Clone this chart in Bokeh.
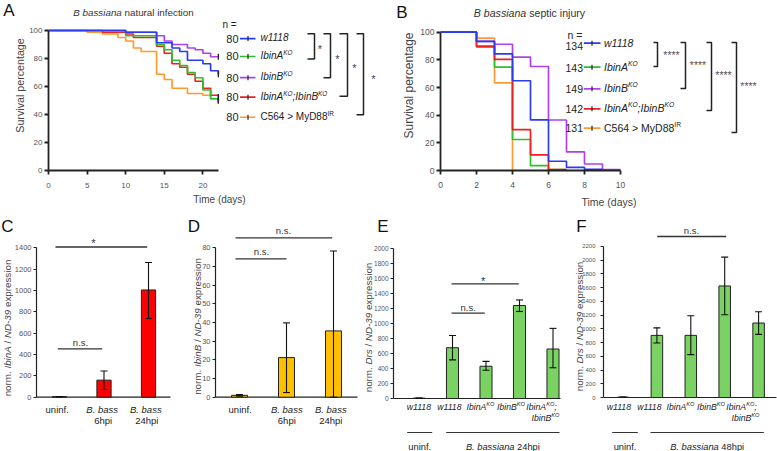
import math
from bokeh.plotting import figure
from bokeh.models import Range1d, FixedTicker, Whisker, TeeHead, ColumnDataSource
from bokeh.layouts import row, column
from bokeh.embed import file_html
from bokeh.resources import INLINE
from bokeh.core.properties import value

FONT = "Liberation Sans"

# ------------------------------------------------------------------ data
# Panel A: B. bassiana natural infection (Kaplan-Meier, % survival)
A_n = [80, 80, 80, 80, 80]
A_w1118_days = [0, 10, 14, 16, 17, 18, 20, 21, 22]
A_w1118_surv = [100, 98.75, 91.25, 87.5, 85, 78.75, 76.25, 71.25, 68.75]
A_ibinA_days = [0, 10, 14, 15, 16, 17, 18, 19, 20, 21, 22]
A_ibinA_surv = [100, 96.25, 90, 86.25, 78.75, 75, 70, 66.25, 57.5, 51.25, 50]
A_ibinB_days = [0, 10, 14, 15, 16, 18, 19, 20, 21, 22]
A_ibinB_surv = [100, 98.75, 96.25, 92.5, 90, 87.5, 86.25, 83.75, 81.25, 81.25]
A_ibinAB_days = [0, 7, 10, 11, 14, 15, 16, 17, 18, 19, 20, 21, 22]
A_ibinAB_surv = [100, 98.75, 97.5, 95, 88.75, 83.75, 76.25, 73.75, 68.75, 63.75, 58.75, 53.75, 52.5]
A_myd88_days = [0, 5, 7, 9, 10, 11, 12, 14, 15, 16, 18, 20, 21, 22]
A_myd88_surv = [100, 98.75, 97.5, 95, 92.5, 87.5, 85, 68.75, 65, 58.75, 55, 53.75, 51.25, 50]

# Panel B: B. bassiana septic injury
B_n = [134, 143, 149, 142, 131]
B_w1118_days = [0, 2, 3, 4, 5, 6, 7, 8, 9]
B_w1118_surv = [100, 93.3, 84.3, 64.9, 36.6, 6.7, 2.2, 0.75, 0.75]
B_ibinA_days = [0, 2, 3, 4, 5, 6, 7]
B_ibinA_surv = [100, 90.2, 74.8, 22.4, 3.5, 0.7, 0.7]
B_ibinB_days = [0, 2, 3, 4, 5, 6, 7, 8, 9, 10]
B_ibinB_surv = [100, 93.3, 91.3, 82.0, 75.2, 36.5, 13.4, 4.7, 0.7, 0.7]
B_ibinAB_days = [0, 2, 3, 4, 5, 6, 7]
B_ibinAB_surv = [100, 89.4, 80.3, 29.6, 11.3, 0.7, 0.7]
B_myd88_days = [0, 2, 3, 4]
B_myd88_surv = [100, 95.7, 63.4, 0]

KM_COLORS = ["#2b3bf2", "#2fbf2f", "#b040ee", "#ee2020", "#ff9a30"]

# Panels C/D: IbinA / IbinB expression
C_mean = [5, 160, 1005]
C_lo = [3, 72, 738]
C_hi = [7, 245, 1263]
D_mean = [1.0, 21.2, 35.5]
D_lo = [0.6, 2.5, 0.0]
D_hi = [1.4, 39.8, 78.3]
CD_cat_top = ["uninf.", "B. bass", "B. bass"]
CD_cat_bottom = ["", "6hpi", "24hpi"]

# Panels E/F: Drs expression
E_mean = [5, 677, 430, 1240, 660]
E_lo = [3, 515, 376, 1160, 410]
E_hi = [7, 840, 495, 1314, 935]
F_mean = [5, 905, 905, 1625, 1085]
F_lo = [3, 795, 625, 1205, 920]
F_hi = [7, 1015, 1190, 2045, 1250]

# ------------------------------------------------------------------ text helpers
CW = {c: 0.556 for c in "0123456789"}
CW.update({' ': 0.278, '.': 0.278, ',': 0.278, ';': 0.278, ':': 0.278, '/': 0.278, '-': 0.333,
           '*': 0.389, '>': 0.584, '=': 0.584, '(': 0.333, ')': 0.333,
           'A': 0.667, 'B': 0.667, 'C': 0.722, 'D': 0.722, 'E': 0.667, 'F': 0.611, 'G': 0.778,
           'H': 0.722, 'I': 0.278, 'J': 0.5, 'K': 0.667, 'L': 0.556, 'M': 0.833, 'N': 0.722,
           'O': 0.778, 'P': 0.667, 'Q': 0.778, 'R': 0.722, 'S': 0.667, 'T': 0.611, 'U': 0.722,
           'V': 0.667, 'W': 0.944, 'X': 0.667, 'Y': 0.667, 'Z': 0.611,
           'a': 0.556, 'b': 0.556, 'c': 0.5, 'd': 0.556, 'e': 0.556, 'f': 0.278, 'g': 0.556,
           'h': 0.556, 'i': 0.222, 'j': 0.222, 'k': 0.5, 'l': 0.222, 'm': 0.833, 'n': 0.556,
           'o': 0.556, 'p': 0.556, 'q': 0.556, 'r': 0.333, 's': 0.5, 't': 0.278, 'u': 0.556,
           'v': 0.5, 'w': 0.722, 'x': 0.5, 'y': 0.5, 'z': 0.5})


def tw(s, size):
    return sum(CW.get(c, 0.556) for c in s) * size


def put(p, X, Y, px, py, parts, align="left", angle=0.0, color="#222", level="glyph"):
    """parts: list of (text, size, style, rise_px); (px, py) = page pixel anchor (mid-height)."""
    total = sum(tw(t, s) for t, s, _, _ in parts)
    cur = {"left": 0.0, "center": -total / 2.0, "right": -total}[align]
    ux, uy = math.cos(angle), -math.sin(angle)
    vx, vy = math.sin(angle), math.cos(angle)
    for t, s, st, rise in parts:
        lead = len(t) - len(t.lstrip(" "))
        shown = t.strip(" ")
        a = cur + tw(" " * lead, s)
        d = -rise
        sx = px + ux * a + vx * d
        sy = py + uy * a + vy * d
        p.text(x=[X(sx)], y=[Y(sy)], text=[shown], angle=angle, text_font=value(FONT),
               text_font_size=value(f"{s}px"), text_font_style=value(st), text_color=color,
               text_align=value("left"), text_baseline=value("middle"), level=level)
        cur += tw(t, s)


def one(p, X, Y, px, py, t, size, style="normal", align="center", color="#222", angle=0.0,
        level="glyph"):
    put(p, X, Y, px, py, [(t, size, style, 0)], align=align, color=color, angle=angle, level=level)


def base_fig(width, height, xr, yr, left, bottom, x_axis=True):
    p = figure(width=width, height=height, x_range=Range1d(*xr), y_range=Range1d(*yr),
               min_border_left=left, min_border_right=0, min_border_top=0,
               min_border_bottom=bottom, output_backend="svg", toolbar_location=None,
               title=None, x_axis_location=("below" if x_axis else None))
    p.grid.visible = False
    p.outline_line_color = None
    p.background_fill_color = "white"
    p.border_fill_color = "white"
    return p


def style_axis(ax, bounds, ticks, tick_out, lw, label_size, label_color="#555", standoff=2):
    ax.bounds = bounds
    ax.ticker = FixedTicker(ticks=ticks)
    ax.minor_tick_line_color = None
    ax.major_tick_in = 0
    ax.major_tick_out = tick_out
    ax.axis_line_color = "#222"
    ax.axis_line_width = lw
    ax.major_tick_line_color = "#222"
    ax.major_tick_line_width = lw
    ax.major_label_text_font = FONT
    ax.major_label_text_font_size = label_size
    ax.major_label_text_color = label_color
    ax.major_label_standoff = standoff


def sup_parts(base, size, style="italic", sup="KO"):
    return [(base, size, style, 0), (sup, round(size * 0.64, 1), style, size * 0.33)]


# ------------------------------------------------------------------ Panel A
def AX(px): return (px - 48.0) / 7.72
def AY(py): return (174.0 - py) / 1.433

pA = base_fig(390, 214, (0, 342 / 7.72), (0, 174 / 1.433), 48, 40)
style_axis(pA.xaxis[0], (0, 22), [0, 5, 10, 15, 20], 4, 1.8, "8px", standoff=8)
style_axis(pA.yaxis[0], (0, 100), [0, 20, 40, 60, 80, 100], 4, 1.8, "8px", standoff=2)
pA.xaxis[0].axis_label = "Time (days)"
pA.yaxis[0].axis_label = "Survival percentage"
for ax, sz, so in ((pA.xaxis[0], "10px", 3), (pA.yaxis[0], "10.7px", 0)):
    ax.axis_label_text_font = FONT
    ax.axis_label_text_font_size = sz
    ax.axis_label_text_font_style = "normal"
    ax.axis_label_text_color = "#444"
    ax.axis_label_standoff = so

A_days = [A_w1118_days, A_ibinA_days, A_ibinB_days, A_ibinAB_days, A_myd88_days]
A_surv = [A_w1118_surv, A_ibinA_surv, A_ibinB_surv, A_ibinAB_surv, A_myd88_surv]
for i in [4, 3, 1, 2, 0]:
    pA.step(x=A_days[i], y=A_surv[i], mode="after", line_color=KM_COLORS[i], line_width=1.7)
pA.scatter(x=[d[-1] for d in A_days], y=[s[-1] for s in A_surv], marker="dash",
           angle=math.pi / 2, size=6, line_color="#222", line_width=1.3)

put(pA, AX, AY, 133, 12.3, [("B bassiana", 9.8, "italic", 0), (" natural infection", 9.8, "normal", 0)],
    align="center", color="#333")
one(pA, AX, AY, 8.5, 10.5, "A", 17, color="#111", level="overlay")

A_leg_py = [39, 57.3, 79, 99, 119.5]
A_leg_parts = [
    [("w1118", 10, "italic", 0)],
    sup_parts("IbinA", 10),
    sup_parts("IbinB", 10),
    sup_parts("IbinA", 10) + [(";IbinB", 10, "italic", 0), ("KO", 6.4, "italic", 3.3)],
    sup_parts("C564 > MyD88", 10, style="normal", sup="IR"),
]
one(pA, AX, AY, 222, 25, "n =", 10, align="left")
for i, py in enumerate(A_leg_py):
    one(pA, AX, AY, 238, py, str(A_n[i]), 11, align="right")
    pA.segment(x0=[AX(239.5)], y0=[AY(py)], x1=[AX(255)], y1=[AY(py)], line_color=KM_COLORS[i], line_width=1.7)
    put(pA, AX, AY, 260, py - 1, A_leg_parts[i], align="left")
pA.scatter(x=[AX(247.5)] * 5, y=[AY(v) for v in A_leg_py], marker="dash", angle=math.pi / 2,
           size=5, line_color="#222", line_width=1.2)

A_brackets = [(307, 314, 34, 60, 319.5, 48), (323, 330, 34, 79, 337, 58),
              (339, 347, 34, 98, 354, 67), (356, 363, 34, 117, 373, 78)]
for xl, xr, yt, yb, sx, sy in A_brackets:
    pA.line(x=[AX(xl), AX(xr), AX(xr), AX(xl)], y=[AY(yt), AY(yt), AY(yb), AY(yb)],
            line_color="#222", line_width=1.5)
    one(pA, AX, AY, sx, sy + 2, "*", 11, color="#444")

# ------------------------------------------------------------------ Panel B
def BX(px): return (px - 440.0) / 18.0
def BY(py): return (170.0 - py) / 1.383

pB = base_fig(387, 214, (0, 337 / 18.0), (0, 170 / 1.383), 50, 44)
style_axis(pB.xaxis[0], (0, 10), [0, 2, 4, 6, 8, 10], 4, 1.8, "8.5px", standoff=7)
style_axis(pB.yaxis[0], (0, 100), [0, 20, 40, 60, 80, 100], 4, 1.8, "8.5px", standoff=2)
pB.xaxis[0].axis_label = "Time (days)"
pB.yaxis[0].axis_label = "Survival percentage"
for ax, sz, so in ((pB.xaxis[0], "10.5px", 5), (pB.yaxis[0], "12px", 1)):
    ax.axis_label_text_font = FONT
    ax.axis_label_text_font_size = sz
    ax.axis_label_text_font_style = "normal"
    ax.axis_label_text_color = "#444"
    ax.axis_label_standoff = so

B_days = [B_w1118_days, B_ibinA_days, B_ibinB_days, B_ibinAB_days, B_myd88_days]
B_surv = [B_w1118_surv, B_ibinA_surv, B_ibinB_surv, B_ibinAB_surv, B_myd88_surv]
for i in [4, 2, 1, 3, 0]:
    pB.step(x=B_days[i], y=B_surv[i], mode="after", line_color=KM_COLORS[i], line_width=1.7)

put(pB, BX, BY, 529, 12.5, [("B bassiana", 10.6, "italic", 0), (" septic injury", 10.6, "normal", 0)],
    align="center", color="#333")
one(pB, BX, BY, 401.5, 11.5, "B", 17, color="#111", level="overlay")

B_leg_py = [42.7, 66.7, 88.3, 108.3, 127.7]
B_num_py = [45.5, 67.5, 88.3, 108.3, 127.7]
B_leg_parts = [
    [("w1118", 10.5, "italic", 0)],
    sup_parts("IbinA", 10.5),
    sup_parts("IbinB", 10.5),
    sup_parts("IbinA", 10.5) + [(";IbinB", 10.5, "italic", 0), ("KO", 6.7, "italic", 3.5)],
    sup_parts("C564 > MyD88", 10.5, style="normal", sup="IR"),
]
one(pB, BX, BY, 567, 34, "n =", 10.5, align="left")
for i, py in enumerate(B_leg_py):
    one(pB, BX, BY, 582.5, B_num_py[i], str(B_n[i]), 10.5, align="right")
    pB.segment(x0=[BX(583.3)], y0=[BY(py)], x1=[BX(600)], y1=[BY(py)], line_color=KM_COLORS[i], line_width=1.7)
    put(pB, BX, BY, 603.5, py - 0.5, B_leg_parts[i], align="left")
pB.scatter(x=[BX(591.5)] * 5, y=[BY(v) for v in B_leg_py], marker="dash", angle=math.pi / 2,
           size=5, line_color="#222", line_width=1.2)

B_brackets = [(653, 657, 42, 66, 671, 52), (680, 685, 42, 88, 697.5, 62),
              (706, 711, 42, 110, 723, 72), (731, 736, 42, 132, 748, 83)]
for xl, xr, yt, yb, sx, sy in B_brackets:
    pB.line(x=[BX(xl), BX(xr), BX(xr), BX(xl)], y=[BY(yt), BY(yt), BY(yb), BY(yb)],
            line_color="#222", line_width=1.5)
    one(pB, BX, BY, sx, sy + 2, "****", 10.5, color="#555")


# ------------------------------------------------------------------ bar panels
def bar_panel(width, fig_left, frame_left, axis_end, X, Y, ytop, ystep, mean, lo, hi,
              color, bar_w, tick_size="7.5px", tick_standoff=2):
    p = base_fig(width, 237, (X(frame_left), X(fig_left + width)), (Y(451), Y(214)),
                 frame_left - fig_left, 0, x_axis=False)
    style_axis(p.yaxis[0], (0, ytop), list(range(0, ytop + 1, ystep)), 3, 1.2, tick_size,
               standoff=tick_standoff)
    src = ColumnDataSource(dict(x=list(range(len(mean))), top=mean, lo=lo, hi=hi))
    p.segment(x0=[X(frame_left)], y0=[0], x1=[X(axis_end)], y1=[0], line_color="#222", line_width=1.2)
    p.vbar(x="x", top="top", bottom=0, width=bar_w, source=src, fill_color=color,
           line_color="#222", line_width=1)
    w = Whisker(source=src, base="x", lower="lo", upper="hi", dimension="height",
                line_color="#111", line_width=1.1, level="overlay")
    w.upper_head = TeeHead(size=7, line_color="#111", line_width=1.1)
    w.lower_head = TeeHead(size=7, line_color="#111", line_width=1.1)
    p.add_layout(w)
    return p


def sig(p, X, Y, x0, x1, py, text, tx, ty, size):
    p.segment(x0=[X(x0)], y0=[Y(py)], x1=[X(x1)], y1=[Y(py)], line_color="#333", line_width=1.3)
    one(p, X, Y, tx, ty, text, size, color="#333")


def ylab(p, X, Y, px, py, gene):
    put(p, X, Y, px, py, [("norm. ", 9.8, "normal", 0), (gene, 9.8, "italic", 0),
                          (" / ", 9.8, "normal", 0), ("ND-39", 9.8, "italic", 0),
                          (" expression", 9.8, "normal", 0)],
        align="center", angle=math.pi / 2, color="#444", level="overlay")


# Panel C
def CX(px): return (px - 59.0) / 44.5
def CY(py): return (396.7 - py) / 0.1067

pC = bar_panel(184, 0, 36, 170, CX, CY, 1400, 200, C_mean, C_lo, C_hi, "#ff0000", 0.32)
sig(pC, CX, CY, 57.3, 101.7, 348.3, "n.s.", 80, 342, 9.5)
sig(pC, CX, CY, 55, 146.7, 246.5, "*", 93, 242, 11)
C_lab_px = [56.7, 101.7, 145.3]
for i, px in enumerate(C_lab_px):
    one(pC, CX, CY, px, 408.5, CD_cat_top[i], 9.5, style=("normal" if i == 0 else "italic"))
    if CD_cat_bottom[i]:
        one(pC, CX, CY, px + 1, 420, CD_cat_bottom[i], 9.5)
ylab(pC, CX, CY, 6.7, 327.5, "IbinA")
one(pC, CX, CY, 7.0, 226, "C", 17, color="#111", level="overlay")

# Panel D
def DX(px): return (px - 239.0) / 47.0
def DY(py): return (396.7 - py) / 1.8675

pD = bar_panel(174, 184, 215, 357, DX, DY, 80, 10, D_mean, D_lo, D_hi, "#ffc000", 0.34)
sig(pD, DX, DY, 235, 286, 258.3, "n.s.", 261, 251, 9.5)
sig(pD, DX, DY, 235, 331.7, 237.3, "n.s.", 283, 229.5, 9.5)
D_lab_px = [239.7, 286.3, 330.3]
for i, px in enumerate(D_lab_px):
    one(pD, DX, DY, px, 408.5, CD_cat_top[i], 9.5, style=("normal" if i == 0 else "italic"))
    if CD_cat_bottom[i]:
        one(pD, DX, DY, px, 420, CD_cat_bottom[i], 9.5)
ylab(pD, DX, DY, 196.7, 326, "IbinB")
one(pD, DX, DY, 193.5, 226, "D", 17, color="#111", level="overlay")


def ef_labels(p, X, Y, first_px, group_uninf, group_inf, inf_text):
    cats = [[("w1118", 8.7, "italic", 0)], [("w1118", 8.7, "italic", 0)],
            sup_parts("IbinA", 8.7), sup_parts("IbinB", 8.7),
            sup_parts("IbinA", 8.7) + [(";", 8.7, "italic", 0)]]
    for i, parts in enumerate(cats):
        put(p, X, Y, first_px + 30.5 * i, 406.5, parts, align="center")
    put(p, X, Y, first_px + 30.5 * 4 + 4, 417.5, sup_parts("IbinB", 8.7), align="center")
    for a, b in (group_uninf, group_inf):
        p.segment(x0=[X(a)], y0=[Y(432)], x1=[X(b)], y1=[Y(432)], line_color="#333", line_width=1.2)
    one(p, X, Y, (group_uninf[0] + group_uninf[1]) / 2, 446.5, "uninf.", 9.3)
    put(p, X, Y, (group_inf[0] + group_inf[1]) / 2, 446.5,
        [("B. bassiana", 9.3, "italic", 0), (" " + inf_text, 9.3, "normal", 0)], align="center")


# Panel E
def EX(px): return (px - 418.5) / 33.5
def EY(py): return (398.0 - py) / 0.075

pE = bar_panel(212, 358, 393, 560, EX, EY, 2000, 200, E_mean, E_lo, E_hi, "#7ad262", 0.36,
               tick_size="6.5px", tick_standoff=2)
sig(pE, EX, EY, 451, 484.3, 312.7, "n.s.", 467.7, 306.5, 9.5)
sig(pE, EX, EY, 451, 518.3, 283.3, "*", 482.7, 280, 11)
ef_labels(pE, EX, EY, 419, (406.7, 431.7), (445.7, 559), "24hpi")
ylab(pE, EX, EY, 367.5, 327, "Drs")
one(pE, EX, EY, 382.5, 226, "E", 17, color="#111", level="overlay")

# Panel F
def FX(px): return (px - 622.5) / 33.9
def FY(py): return (397.0 - py) / 0.06864

pF = bar_panel(207, 570, 603, 776, FX, FY, 2200, 200, F_mean, F_lo, F_hi, "#7ad262", 0.34,
               tick_size="6px", tick_standoff=5)
sig(pF, FX, FY, 656.7, 725.7, 236, "n.s.", 691, 229.5, 9.5)
ef_labels(pF, FX, FY, 619, (611.7, 637.3), (650, 763.3), "48hpi")
ylab(pF, FX, FY, 578.5, 326, "Drs")
one(pF, FX, FY, 581, 226, "F", 17, color="#111", level="overlay")

layout = column(row(pA, pB), row(pC, pD, pE, pF))
open("out.html", "w").write(file_html(layout, INLINE))
